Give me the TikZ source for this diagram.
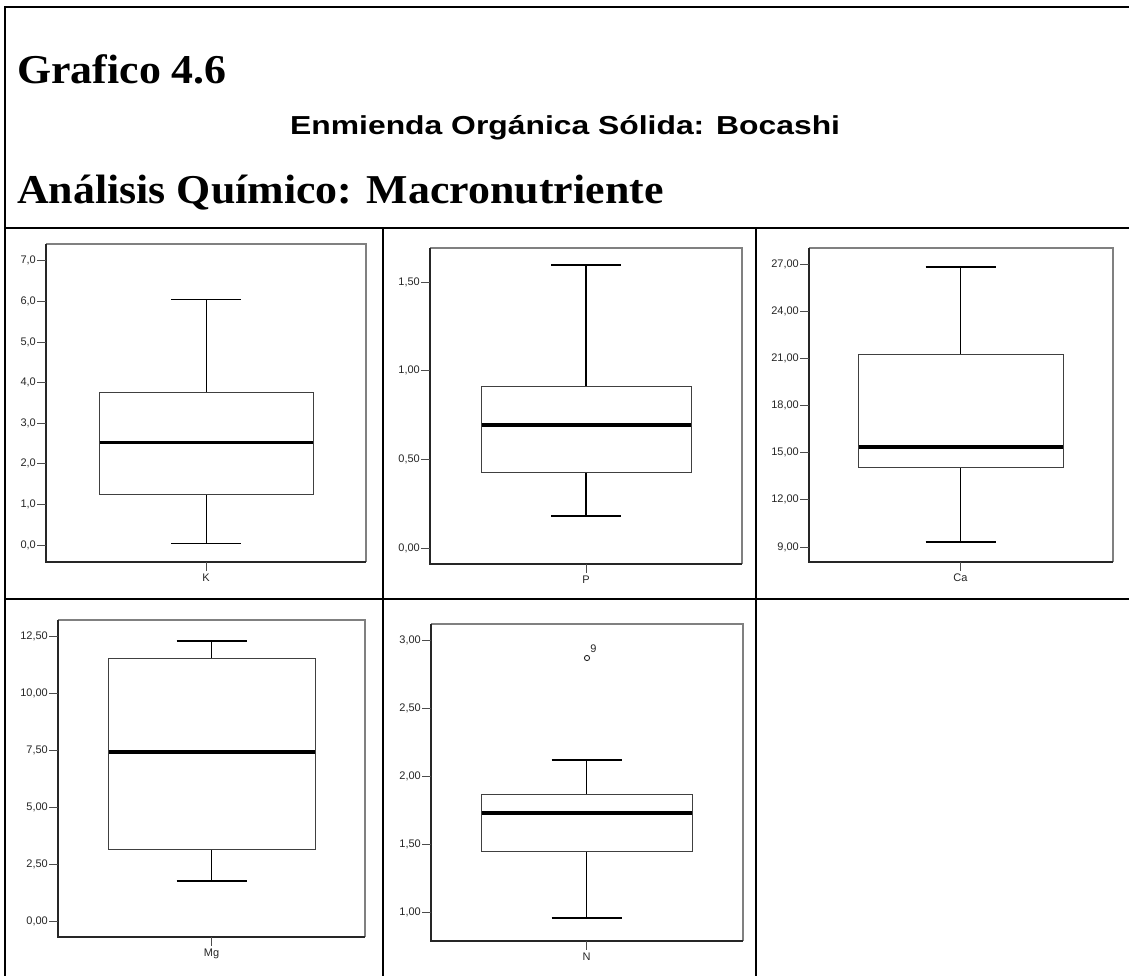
\documentclass[tikz,border=0pt]{standalone}
\usepackage{fontspec}
\usepackage{graphicx}
\setmainfont{Liberation Serif}
\newfontfamily\arialf{Liberation Sans}
\newcommand\yt[4]{%
  \draw[tickline] (#1-9,#2) -- (#1,#2);
  \node[ticklab] (#4) at (#1-10,#2) {#3};}
\newcommand\pframe[4]{%
  \draw[frameG] (#1,#2) -- (#3,#2) -- (#3,#4);
  \draw[frameL] (#1,#2) -- (#1,#4) -- (#3,#4);}
\newcommand\pbox[8]{%
  \pgfmathsetmacro\cx{(#1+#2)/2}
  \draw[whisk, line width=#8] (\cx,#3) -- (\cx,#6);
  \draw[whisk, line width=#8] (\cx,#4) -- (\cx,#7);
  \draw[capline, line width=#8+0.3pt] (\cx-35,#6) -- (\cx+35,#6);
  \draw[capline, line width=#8+0.3pt] (\cx-35,#7) -- (\cx+35,#7);
  \draw[boxline, fill=white] (#1,#3) rectangle (#2,#4);
  \draw[med] (#1+0.5,#5) -- (#2-0.5,#5);}
\newcommand\xlab[3]{%
  \draw[tickline] (\cx,#1) -- (\cx,#1+9);
  \node[varlab] (#3) at (\cx,#1+12) {#2};}
\begin{document}
\begin{tikzpicture}[x=1pt,y=-1pt,
  border/.style={line width=2.2pt, black},
  frameL/.style={line width=1.2pt, black!85},
  frameG/.style={line width=1.2pt, black!50},
  boxline/.style={line width=1pt, black!75},
  whisk/.style={black},
  capline/.style={black},
  med/.style={line width=3.5pt, black},
  tickline/.style={line width=0.9pt, black!70},
  ticklab/.style={font=\arialf\fontsize{11}{13}\selectfont, text=black!85, anchor=east, inner sep=0pt},
  varlab/.style={font=\arialf\fontsize{11}{13}\selectfont, text=black!85, anchor=north, inner sep=0pt},
  bigtitle/.style={font=\bfseries\fontsize{41}{48}\selectfont, anchor=base west, inner sep=0pt},
  subtitle/.style={font=\arialf\bfseries\fontsize{26}{30}\selectfont, anchor=base west, inner sep=0pt}
]
\useasboundingbox (0,0) rectangle (1129,976);
\fill[white] (0,0) rectangle (1129,976);

% borders
\draw[border] (5,976) -- (5,7) -- (1129,7);
\draw[border] (5,228) -- (1129,228);
\draw[border] (5,599) -- (1129,599);
\draw[border] (383,228) -- (383,976);
\draw[border] (756,228) -- (756,976);

% titles
\node[bigtitle] (t1) at (17,84) {\scalebox{1.07}[1]{Grafico 4.6}};
\node[subtitle] (t2) at (290,135) {\scalebox{1.225}[1]{Enmienda Orgánica Sólida: Bocashi}};
\node[bigtitle] (t3) at (17,204) {\scalebox{1.07}[1]{Análisis Químico: Macronutriente}};

% K
\pframe{46}{244}{366}{562}
\yt{46}{545}{0,0}{k0}
\yt{46}{504.4}{1,0}{k1}
\yt{46}{463.8}{2,0}{k2}
\yt{46}{423.2}{3,0}{k3}
\yt{46}{382.6}{4,0}{k4}
\yt{46}{342}{5,0}{k5}
\yt{46}{301.4}{6,0}{k6}
\yt{46}{260.8}{7,0}{k7}
\pbox{99}{313}{392.8}{494.7}{442.7}{299.4}{543.8}{1pt}
\xlab{562}{K}{kl}

% P
\pframe{430}{248}{742}{564}
\yt{430}{548}{0,00}{p0}
\yt{430}{459.3}{0,50}{p1}
\yt{430}{370.7}{1,00}{p2}
\yt{430}{282}{1,50}{p3}
\pbox{481}{691}{386}{472}{425}{265}{516}{1.1pt}
\xlab{564}{P}{pl}

% Ca
\pframe{809}{248}{1113}{562}
\yt{809}{547}{9,00}{c0}
\yt{809}{499.8}{12,00}{c1}
\yt{809}{452.7}{15,00}{c2}
\yt{809}{405.5}{18,00}{c3}
\yt{809}{358.4}{21,00}{c4}
\yt{809}{311.2}{24,00}{c5}
\yt{809}{264}{27,00}{c6}
\pbox{858}{1063}{354}{467}{447}{267}{542}{1.6pt}
\xlab{562}{Ca}{cl}

% Mg
\pframe{58}{620}{365}{937}
\yt{58}{921}{0,00}{m0}
\yt{58}{864}{2,50}{m1}
\yt{58}{807}{5,00}{m2}
\yt{58}{750}{7,50}{m3}
\yt{58}{693}{10,00}{m4}
\yt{58}{636}{12,50}{m5}
\pbox{108}{315}{658}{849}{752}{641}{881}{1pt}
\xlab{937}{Mg}{ml}

% N
\pframe{431}{624}{743}{941}
\yt{431}{912}{1,00}{n0}
\yt{431}{844.1}{1,50}{n1}
\yt{431}{776.2}{2,00}{n2}
\yt{431}{708.3}{2,50}{n3}
\yt{431}{640.4}{3,00}{n4}
\pbox{481}{692}{794}{851}{813}{760}{918}{1.1pt}
\xlab{941}{N}{nl}
\draw[line width=0.9pt, black!85] (587,658) circle (2.6);
\node[font=\arialf\fontsize{11}{13}\selectfont, text=black!85, inner sep=0pt] (n9) at (593.5,649) {9};
\end{tikzpicture}
\end{document}
